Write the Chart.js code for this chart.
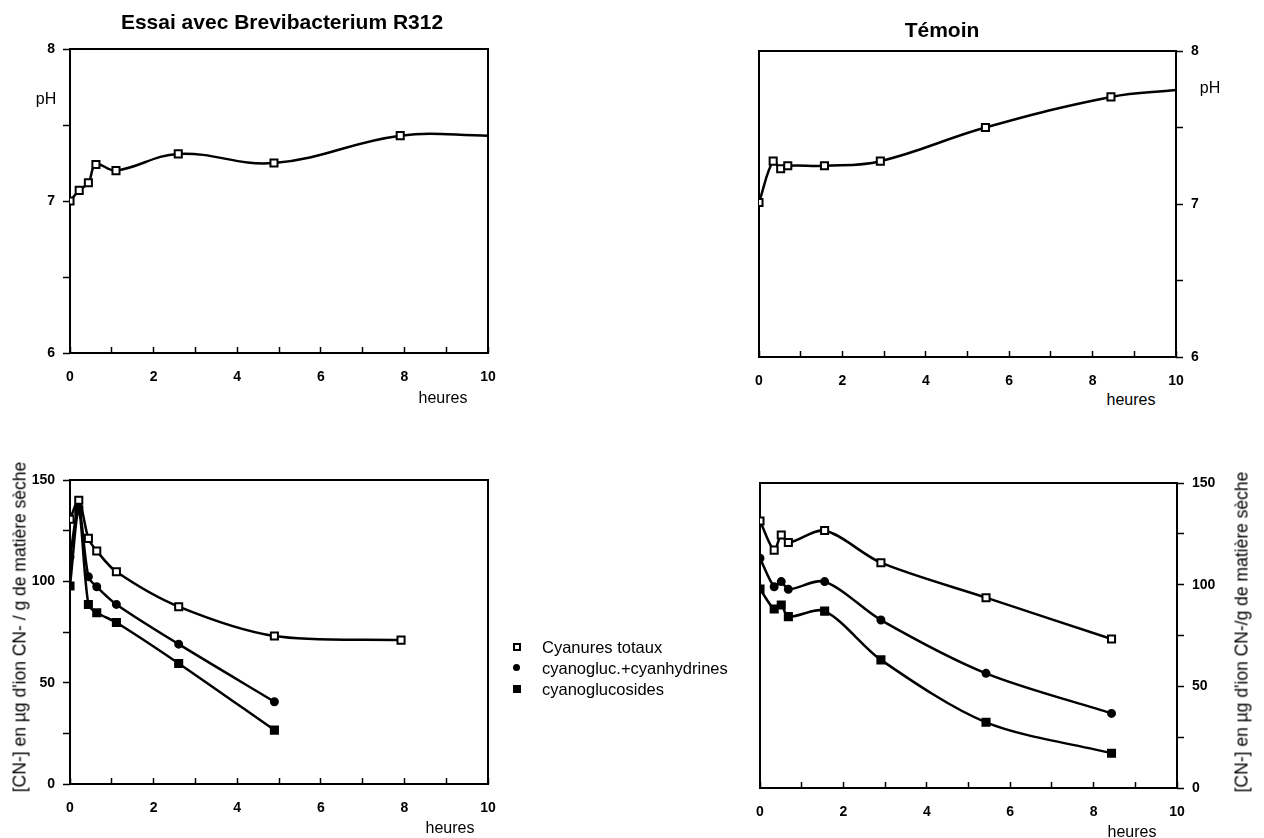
<!DOCTYPE html>
<html>
<head>
<meta charset="utf-8">
<script src="https://cdn.jsdelivr.net/npm/chart.js@4.4.1/dist/chart.umd.min.js"></script>
<style>
body { margin: 0; background: #fff; width: 1264px; height: 838px; position: relative; overflow: hidden;
       font-family: "Liberation Sans", Arial, sans-serif; color: #000; }
canvas { position: absolute; }
.t { position: absolute; white-space: nowrap; transform: translate(-50%, -50%); }
.titre { font-weight: bold; font-size: 21px; }
.axe { font-size: 16px; }
.rot { transform: translate(-50%, -50%) rotate(-90deg); font-size: 17.5px; }
.leg { position: absolute; left: 510px; top: 637px; font-size: 16.5px; line-height: 21px; }
.leg div { position: relative; padding-left: 32px; }
.leg span { position: absolute; left: 3px; top: 6px; width: 8px; height: 8px; box-sizing: border-box; }
</style>
</head>
<body>

<canvas id="phEssai" width="540" height="390" style="left:0;top:0"></canvas>
<canvas id="phTemoin" width="564" height="390" style="left:700px;top:0"></canvas>
<canvas id="cnEssai" width="540" height="418" style="left:0;top:420px"></canvas>
<canvas id="cnTemoin" width="564" height="418" style="left:700px;top:420px"></canvas>

<div class="t titre" style="left:282px;top:22px">Essai avec Brevibacterium R312</div>
<div class="t titre" style="left:942px;top:30px">Témoin</div>
<div class="t axe" style="left:46px;top:99px">pH</div>
<div class="t axe" style="left:1210px;top:88px">pH</div>
<div class="t axe" style="left:443px;top:398px">heures</div>
<div class="t axe" style="left:1131px;top:400px">heures</div>
<div class="t axe" style="left:450px;top:828px">heures</div>
<div class="t axe" style="left:1132px;top:832px">heures</div>
<div class="t rot" style="left:20px;top:627px">[CN-] en µg d'ion CN- / g de matière sèche</div>
<div class="t rot" style="left:1242px;top:632px">[CN-] en µg d'ion CN-/g de matière sèche</div>

<div class="leg">
  <div><span style="border:2px solid #000;background:#fff"></span>Cyanures totaux</div>
  <div><span style="background:#000;border-radius:50%;width:7px;height:7px"></span>cyanogluc.+cyanhydrines</div>
  <div><span style="background:#000"></span>cyanoglucosides</div>
</div>

<script>
// pH, essai avec Brevibacterium R312 (last value = end of curve at 10 h, no marker)
var essaiPhHeures = [0, 0.22, 0.44, 0.62, 1.1, 2.59, 4.88, 7.9, 10];
var essaiPh = [7.0, 7.07, 7.12, 7.24, 7.2, 7.31, 7.25, 7.43, 7.43];

// pH, témoin (last value = end of curve at 10 h, no marker)
var temoinPhHeures = [0, 0.34, 0.52, 0.69, 1.57, 2.91, 5.43, 8.44, 10];
var temoinPh = [7.01, 7.28, 7.23, 7.25, 7.25, 7.28, 7.5, 7.7, 7.745];

// [CN-], essai
var essaiHeures = [0, 0.21, 0.44, 0.64, 1.11, 2.6, 4.89, 7.92];
var essaiTotaux = [130.6, 140, 121.2, 115, 104.7, 87.5, 73, 71];
var essaiCyanhydrines = [112, 136.5, 102.3, 97.3, 88.6, 69, 40.6];
var essaiGlucosides = [97.7, 135, 88.6, 84.5, 79.7, 59.5, 26.6];

// [CN-], témoin
var temoinHeures = [0, 0.34, 0.51, 0.68, 1.55, 2.9, 5.42, 8.43];
var temoinTotaux = [131.3, 117, 124.4, 120.7, 126.6, 110.8, 93.6, 73.3];
var temoinCyanhydrines = [113, 99, 101.5, 97.7, 101.5, 82.6, 56.4, 36.7];
var temoinGlucosides = [97.9, 88, 90, 84.3, 87, 63, 32.3, 17.1];

var seriesNames = ['Cyanures totaux', 'cyanogluc.+cyanhydrines', 'cyanoglucosides'];
var heuresTicks = [0, 2, 4, 6, 8, 10];

function pts(xs, ys) {
  return ys.map(function (y, i) { return { x: xs[i], y: y }; });
}

var tickFont = { family: '"Liberation Sans", Arial, sans-serif', size: 14, weight: 'bold' };

// box around the plot area
var cadre = {
  id: 'cadre',
  beforeDatasetsDraw: function (chart) {
    var a = chart.chartArea, c = chart.ctx;
    c.save();
    c.strokeStyle = '#000';
    c.lineWidth = 2;
    c.strokeRect(a.left, a.top, a.right - a.left, a.bottom - a.top);
    c.restore();
  }
};

function options(o) {
  return {
    responsive: false,
    animation: false,
    layout: { padding: o.padding },
    plugins: { legend: { display: false }, tooltip: { enabled: false } },
    scales: {
      x: {
        type: 'linear', min: 0, max: 10,
        ticks: {
          stepSize: 1, autoSkip: false, maxRotation: 0, padding: 22, color: '#000', font: tickFont,
          callback: function (v) { return heuresTicks.indexOf(v) >= 0 ? v : ''; }
        },
        grid: { drawOnChartArea: false, tickLength: -6, tickColor: '#000', tickWidth: 1.5 },
        border: { display: false },
        afterFit: function (s) { s.height = o.xh; }
      },
      y: {
        type: 'linear', position: o.side, min: o.min, max: o.max,
        ticks: {
          stepSize: o.step, autoSkip: false, padding: 8, color: '#000', font: tickFont,
          callback: function (v) { return v % o.label === 0 ? v : ''; }
        },
        grid: { drawOnChartArea: false, tickLength: 7, tickColor: '#000', tickWidth: 1.5 },
        border: { display: false },
        afterFit: function (s) { s.width = o.yw; }
      }
    }
  };
}

function phChart(id, xs, ys, o) {
  new Chart(document.getElementById(id), {
    type: 'line',
    data: {
      datasets: [{
        label: 'pH',
        data: pts(xs, ys),
        borderColor: '#000', borderWidth: 2.5, tension: 0.4,
        pointStyle: 'rect', pointBackgroundColor: '#fff', pointBorderColor: '#000', pointBorderWidth: 2,
        pointRadius: function (c) { return c.dataIndex === xs.length - 1 ? 0 : 5; }
      }]
    },
    options: options(o),
    plugins: [cadre]
  });
}

function cnChart(id, xs, totaux, cyanhydrines, glucosides, o) {
  var base = { borderColor: '#000', borderWidth: 2.5, tension: 0.3, pointBorderColor: '#000', pointBorderWidth: 2 };
  new Chart(document.getElementById(id), {
    type: 'line',
    data: {
      datasets: [
        Object.assign({ label: seriesNames[0], data: pts(xs, totaux), pointStyle: 'rect', pointRadius: 5, pointBackgroundColor: '#fff' }, base),
        Object.assign({ label: seriesNames[1], data: pts(xs, cyanhydrines), pointStyle: 'circle', pointRadius: 3.5, pointBackgroundColor: '#000' }, base),
        Object.assign({ label: seriesNames[2], data: pts(xs, glucosides), pointStyle: 'rect', pointRadius: 5, pointBackgroundColor: '#000' }, base)
      ]
    },
    options: options(o),
    plugins: [cadre]
  });
}

phChart('phEssai', essaiPhHeures, essaiPh,
  { side: 'left', min: 6, max: 8, step: 0.5, label: 1, yw: 70, xh: 37, padding: { top: 49, right: 52 } });
phChart('phTemoin', temoinPhHeures, temoinPh,
  { side: 'right', min: 6, max: 8, step: 0.5, label: 1, yw: 40, xh: 33, padding: { top: 51, left: 59, right: 48 } });
cnChart('cnEssai', essaiHeures, essaiTotaux, essaiCyanhydrines, essaiGlucosides,
  { side: 'left', min: 0, max: 150, step: 25, label: 50, yw: 70, xh: 54, padding: { top: 60, right: 52 } });
cnChart('cnTemoin', temoinHeures, temoinTotaux, temoinCyanhydrines, temoinGlucosides,
  { side: 'right', min: 0, max: 150, step: 25, label: 50, yw: 40, xh: 50, padding: { top: 63, left: 60, right: 47 } });
</script>
</body>
</html>
